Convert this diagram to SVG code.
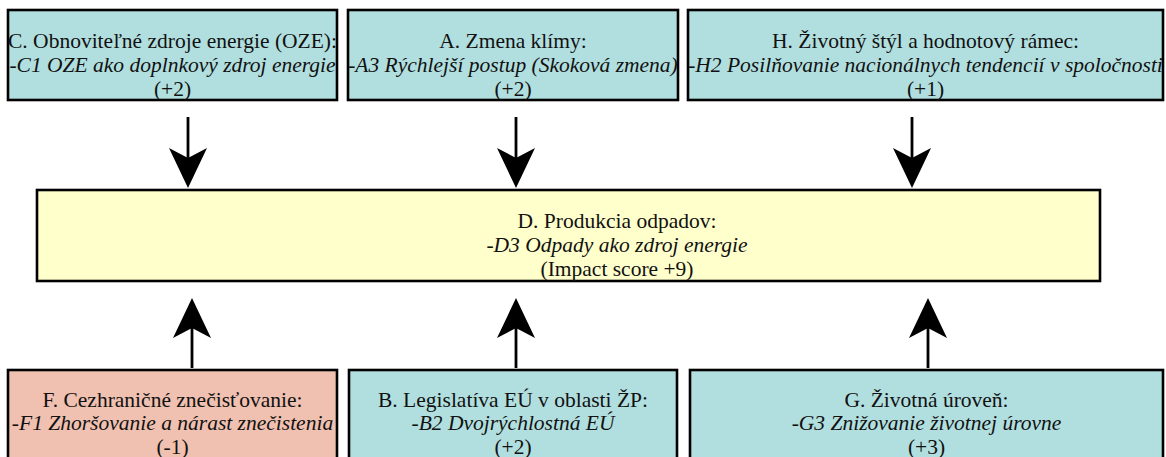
<svg xmlns="http://www.w3.org/2000/svg" width="1166" height="457" viewBox="0 0 1166 457">
<style>
.box{stroke:#000;stroke-width:2.6}
.teal{fill:#b1dfdf}
.yel{fill:#ffffcc}
.sal{fill:#f0c0b0}
text{font-family:"Liberation Serif","Times New Roman",serif;font-size:21.5px;fill:#111;text-anchor:middle}
.it{font-style:italic}
.shaft{stroke:#000;stroke-width:2.8;fill:none}
.head{fill:#000}
</style>
<rect width="1166" height="457" fill="#fff"/>
<g id="node-C">
<rect class="box teal" x="8" y="10" width="329" height="90"/>
<text x="172.5" y="48">C. Obnoviteľné zdroje energie (OZE):</text>
<text class="it" x="172.5" y="71.5">-C1 OZE ako doplnkový zdroj energie</text>
<text x="172.5" y="95.5">(+2)</text>
</g>
<g id="node-A">
<rect class="box teal" x="348" y="10" width="330" height="90"/>
<text x="513" y="48">A. Zmena klímy:</text>
<text class="it" x="513" y="71.5">-A3 Rýchlejší postup (Skoková zmena)</text>
<text x="513" y="95.5">(+2)</text>
</g>
<g id="node-H">
<rect class="box teal" x="688" y="10" width="475" height="90"/>
<text x="925.5" y="48">H. Životný štýl a hodnotový rámec:</text>
<text class="it" x="925.5" y="71.5">-H2 Posilňovanie nacionálnych tendencií v spoločnosti</text>
<text x="925.5" y="95.5">(+1)</text>
</g>
<g id="node-D">
<rect class="box yel" x="37" y="190" width="1063" height="91"/>
<text x="617" y="228">D. Produkcia odpadov:</text>
<text class="it" x="617" y="251.5">-D3 Odpady ako zdroj energie</text>
<text x="617" y="275.5">(Impact score +9)</text>
</g>
<g id="node-F">
<rect class="box sal" x="8" y="370" width="329" height="110"/>
<text x="172.5" y="407">F. Cezhraničné znečisťovanie:</text>
<text class="it" x="172.5" y="430">-F1 Zhoršovanie a nárast znečistenia</text>
<text x="172.5" y="454">(-1)</text>
</g>
<g id="node-B">
<rect class="box teal" x="349" y="370" width="328" height="110"/>
<text x="513" y="407">B. Legislatíva EÚ v oblasti ŽP:</text>
<text class="it" x="513" y="430">-B2 Dvojrýchlostná EÚ</text>
<text x="513" y="454">(+2)</text>
</g>
<g id="node-G">
<rect class="box teal" x="690" y="370" width="473" height="110"/>
<text x="926.5" y="407">G. Životná úroveň:</text>
<text class="it" x="926.5" y="430">-G3 Znižovanie životnej úrovne</text>
<text x="926.5" y="454">(+3)</text>
</g>
<g id="connectors">
<line class="shaft" x1="188" y1="117" x2="188" y2="160"/>
<path class="head" d="M188,188 L207,148 L188,158 L169,148 Z"/>
<line class="shaft" x1="516" y1="117" x2="516" y2="160"/>
<path class="head" d="M516,188 L535,148 L516,158 L497,148 Z"/>
<line class="shaft" x1="912" y1="117" x2="912" y2="160"/>
<path class="head" d="M912,188 L931,148 L912,158 L893,148 Z"/>
<line class="shaft" x1="192" y1="368" x2="192" y2="326"/>
<path class="head" d="M192,298 L211,338 L192,328 L173,338 Z"/>
<line class="shaft" x1="516" y1="368" x2="516" y2="326"/>
<path class="head" d="M516,298 L535,338 L516,328 L497,338 Z"/>
<line class="shaft" x1="928" y1="368" x2="928" y2="326"/>
<path class="head" d="M928,298 L947,338 L928,328 L909,338 Z"/>
</g>
</svg>
